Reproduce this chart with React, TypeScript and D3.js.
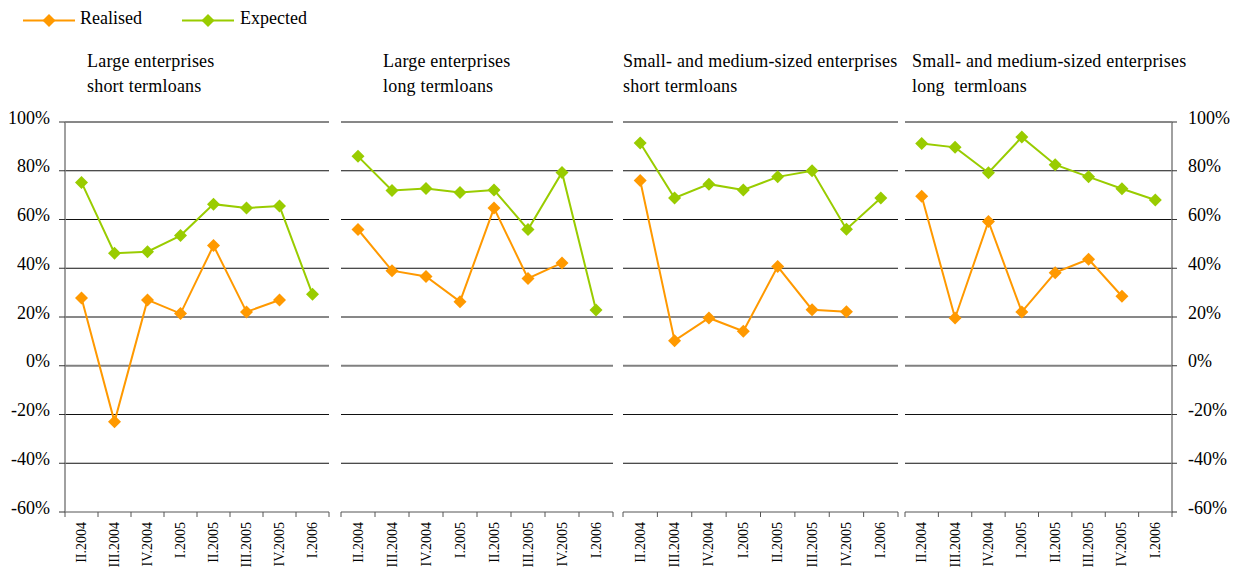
import React from "react";
import * as d3 from "d3";

const categories = ["II.2004", "III.2004", "IV.2004", "I.2005", "II.2005", "III.2005", "IV.2005", "I.2006"];
const yTicks = [100, 80, 60, 40, 20, 0, -20, -40, -60];

const titles1 = ["Large enterprises", "Large enterprises", "Small- and medium-sized enterprises", "Small- and medium-sized enterprises"];
const titles2 = ["short term\u200Bloans", "long term\u200Bloans", "short term\u200Bloans", "long  term\u200Bloans"];

const realisedLargeShort = [27.8, -23, 27, 21.4, 49.3, 22.1, 27, null];
const expectedLargeShort = [75.2, 46.2, 46.8, 53.4, 66.3, 64.7, 65.5, 29.3];
const realisedLargeLong = [55.9, 39, 36.6, 26.3, 64.7, 35.8, 42.2, null];
const expectedLargeLong = [85.9, 71.9, 72.7, 71.1, 72.1, 55.9, 79.3, 22.9];
const realisedSmeShort = [76, 10.3, 19.6, 14.2, 40.7, 23, 22.2, null];
const expectedSmeShort = [91.4, 68.8, 74.5, 72.1, 77.5, 80, 56, 68.8];
const realisedSmeLong = [69.5, 19.6, 59.2, 22.1, 38.2, 43.7, 28.5, null];
const expectedSmeLong = [91.2, 89.6, 79.2, 93.8, 82.5, 77.5, 72.6, 68];

const realisedAll = [realisedLargeShort, realisedLargeLong, realisedSmeShort, realisedSmeLong];
const expectedAll = [expectedLargeShort, expectedLargeLong, expectedSmeShort, expectedSmeLong];

// layout
const panelX: [number, number][] = [[65, 329], [341, 613], [623, 898], [905, 1172]];
const titleX = [87, 383, 623, 912];
const ORANGE = "#FF9900";
const GREEN = "#99CC00";
const FONT = "'Liberation Serif', 'Times New Roman', serif";

const y = d3.scaleLinear().domain([-60, 100]).range([512, 122]);

function Diamond({ x, yy, color }: { x: number; yy: number; color: string }) {
  const r = 6.5;
  return <path d={`M${x},${yy - r}L${x + r},${yy}L${x},${yy + r}L${x - r},${yy}Z`} fill={color} />;
}

function Panel({ idx }: { idx: number }) {
  const [x0, x1] = panelX[idx];
  const x = d3.scaleBand<string>().domain(categories).range([x0, x1]).padding(0);
  const cx = (c: string) => (x(c) as number) + x.bandwidth() / 2;
  const line = d3
    .line<number | null>()
    .defined((d) => d !== null)
    .x((_, i) => cx(categories[i]))
    .y((d) => y(d as number));
  const series = [
    { data: realisedAll[idx], color: ORANGE },
    { data: expectedAll[idx], color: GREEN },
  ];
  const tickXs = [x0, ...categories.map((c) => (x(c) as number) + x.bandwidth())];
  return (
    <g>
      {yTicks.map((t) => (
        <line
          key={t}
          x1={x0}
          x2={x1}
          y1={y(t)}
          y2={y(t)}
          stroke={t === 0 ? "#808080" : t === -60 ? "#555" : "#111"}
          strokeWidth={t === 0 ? 2 : 1}
        />
      ))}
      {tickXs.map((tx, i) => (
        <line key={i} x1={tx} x2={tx} y1={y(-60)} y2={y(-60) + 5} stroke="#555" strokeWidth={1} />
      ))}
      {categories.map((c) => (
        <text
          key={c}
          transform={`translate(${cx(c) + 4.5},${y(-60) + 10}) rotate(-90)`}
          textAnchor="end"
          fontSize={14}
          fontFamily={FONT}
          fill="#000"
        >
          {c}
        </text>
      ))}
      {series.map((s, si) => (
        <g key={si}>
          <path d={line(s.data) || ""} fill="none" stroke={s.color} strokeWidth={2} />
          {s.data.map((d, i) =>
            d === null ? null : <Diamond key={i} x={cx(categories[i])} yy={y(d)} color={s.color} />
          )}
        </g>
      ))}
      <text x={titleX[idx]} y={67} fontSize={18} letterSpacing={0.2} fontFamily={FONT} fill="#000" style={{ whiteSpace: "pre" }}>
        {titles1[idx]}
      </text>
      <text x={titleX[idx]} y={92} fontSize={18} letterSpacing={0.2} fontFamily={FONT} fill="#000" style={{ whiteSpace: "pre" }}>
        {titles2[idx]}
      </text>
    </g>
  );
}

export default function App() {
  const leftAxis = panelX[0][0];
  const rightAxis = panelX[3][1];
  const fmt = (t: number) => `${t}%`;
  return (
    <svg
      width={1238}
      height={570}
      style={{ position: "absolute", left: 0, top: 0, background: "#fff" }}
    >
      <rect x={0} y={0} width={1238} height={570} fill="#fff" />
      {[0, 1, 2, 3].map((i) => (
        <Panel key={i} idx={i} />
      ))}
      {/* left axis */}
      <line x1={leftAxis} x2={leftAxis} y1={y(100)} y2={y(-60)} stroke="#808080" strokeWidth={1.5} />
      {yTicks.map((t) => (
        <g key={`l${t}`}>
          <line x1={leftAxis - 6} x2={leftAxis} y1={y(t)} y2={y(t)} stroke="#333" />
          <text x={50} y={y(t) + 1.5} textAnchor="end" fontSize={18} fontFamily={FONT} fill="#000">
            {fmt(t)}
          </text>
        </g>
      ))}
      {/* right axis */}
      <line x1={rightAxis} x2={rightAxis} y1={y(100)} y2={y(-60)} stroke="#808080" strokeWidth={1.5} />
      {yTicks.map((t) => (
        <g key={`r${t}`}>
          <line x1={rightAxis} x2={rightAxis + 5} y1={y(t)} y2={y(t)} stroke="#333" />
          <text x={1188} y={y(t) + 1.5} textAnchor="start" fontSize={18} fontFamily={FONT} fill="#000">
            {fmt(t)}
          </text>
        </g>
      ))}
      {/* legend */}
      <g>
        <line x1={23} x2={75} y1={20.5} y2={20.5} stroke={ORANGE} strokeWidth={2} />
        <Diamond x={49} yy={20.5} color={ORANGE} />
        <text x={80} y={23.5} fontSize={18} fontFamily={FONT} fill="#000">Realised</text>
        <line x1={182} x2={234} y1={20.5} y2={20.5} stroke={GREEN} strokeWidth={2} />
        <Diamond x={208} yy={20.5} color={GREEN} />
        <text x={240} y={23.5} fontSize={18} fontFamily={FONT} fill="#000">Expected</text>
      </g>
    </svg>
  );
}
